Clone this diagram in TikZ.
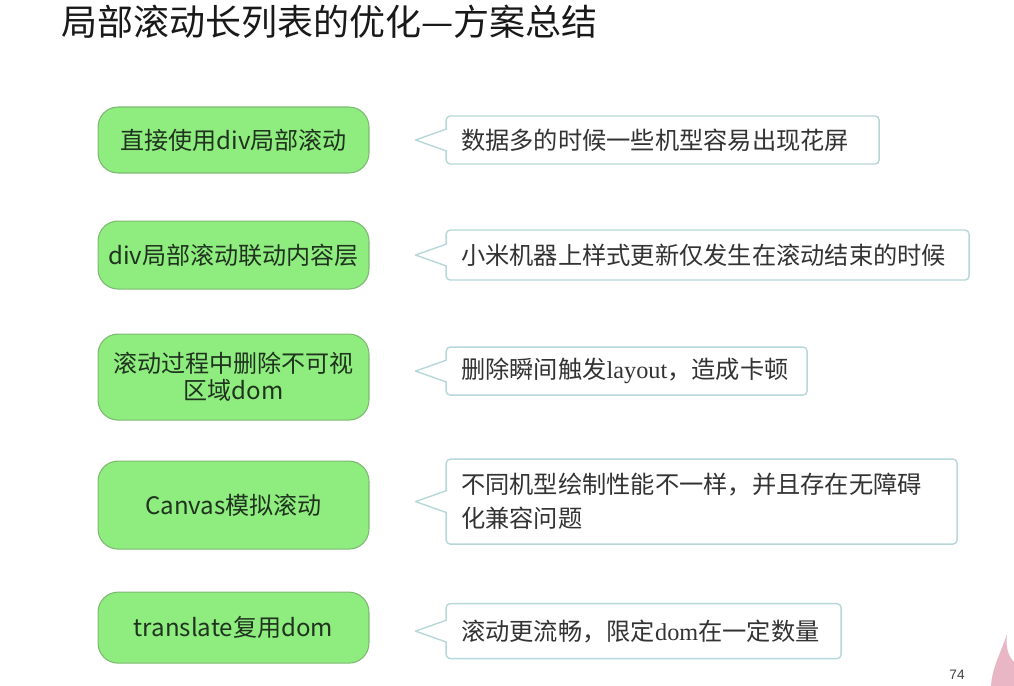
\documentclass[tikz,border=0pt]{standalone}
\usepackage{fontspec}
\setmainfont{Noto Sans CJK SC}
\newfontfamily\latinserif{Liberation Serif}
\newfontfamily\pagefont{Liberation Sans}
\usepackage{xcolor}
\usetikzlibrary{positioning,calc}

\definecolor{boxgreen}{HTML}{8FEC7E}
\definecolor{boxline}{HTML}{7DB872}
\definecolor{boxtext}{HTML}{1F331F}
\definecolor{noteline}{HTML}{B7D7D9}
\definecolor{notetext}{HTML}{333333}
\definecolor{flamepink}{HTML}{E8B6C4}

\begin{document}
\begin{tikzpicture}[
    x=0.02cm, y=-0.02cm,
    scheme/.style={rectangle, draw=boxline, fill=boxgreen, line width=0.6pt, rounded corners=0.4cm,
        minimum width=5.42cm, minimum height=1.36cm, align=center, text=boxtext,
        font=\fontsize{13.7}{15.4}\selectfont},
    note/.style={rectangle, draw=noteline, fill=white, line width=0.8pt, rounded corners=0.08cm,
        inner xsep=0.3cm, align=left, text=notetext, font=\fontsize{13.8}{19.3}\selectfont},
    notch/.style={draw=noteline, line width=0.8pt, line join=round}
]
\useasboundingbox (0,0) rectangle (1014,686);

% Title
\node[anchor=west, font=\fontsize{20.5}{24}\selectfont, text=black!90] (title) at (55,22) {局部滚动长列表的优化—方案总结};

% Schemes
\node[scheme, minimum height=1.32cm] (b1) at (233.5,140) {直接使用div局部滚动};
\node[scheme, below=0.94cm of b1] (b2) {div局部滚动联动内容层};
\node[scheme, below=0.88cm of b2, minimum height=1.72cm] (b3) {滚动过程中删除不可视\\区域dom};
\node[scheme, below=0.8cm of b3, minimum height=1.76cm] (b4) {Canvas模拟滚动};
\node[scheme, below=0.84cm of b4, minimum height=1.42cm] (b5) {translate复用dom};

% Notes
\node[note, right=1.52cm of b1, text width=8.06cm, minimum height=0.96cm] (n1) {数据多的时候一些机型容易出现花屏};
\node[note, right=1.52cm of b2, text width=9.86cm, minimum height=1cm] (n2) {小米机器上样式更新仅发生在滚动结束的时候};
\node[note, right=1.52cm of b3, yshift=0.12cm, text width=6.62cm, minimum height=0.96cm] (n3) {删除瞬间触发{\latinserif layout}，造成卡顿};
\node[note, right=1.52cm of b4, yshift=0.07cm, text width=9.62cm, minimum height=1.7cm] (n4) {不同机型绘制性能不一样，并且存在无障碍\\化兼容问题};
\node[note, right=1.52cm of b5, yshift=-0.07cm, text width=7.3cm, minimum height=1.1cm] (n5) {滚动更流畅，限定{\latinserif dom}在一定数量};

% Pointers
\foreach \n in {n1,n2,n3,n4,n5} {
    \fill[white] ($(\n.west)+(0.06cm,0.22cm)$) -- ($(\n.west)+(-0.6cm,0)$) -- ($(\n.west)+(0.06cm,-0.22cm)$) -- cycle;
    \draw[notch] ($(\n.west)+(0.02cm,0.22cm)$) -- ($(\n.west)+(-0.6cm,0)$) -- ($(\n.west)+(0.02cm,-0.22cm)$);
}

% Page number and corner mark
\node[font=\pagefont\fontsize{7.8}{9}\selectfont, text=black!75] (page) at (957,675) {74};
\fill[flamepink] (991,686) .. controls (992,668) and (1000,655) .. (1007,634)
    .. controls (1005,650) and (1010,658) .. (1014,662) -- (1014,686) -- cycle;

\end{tikzpicture}
\end{document}
